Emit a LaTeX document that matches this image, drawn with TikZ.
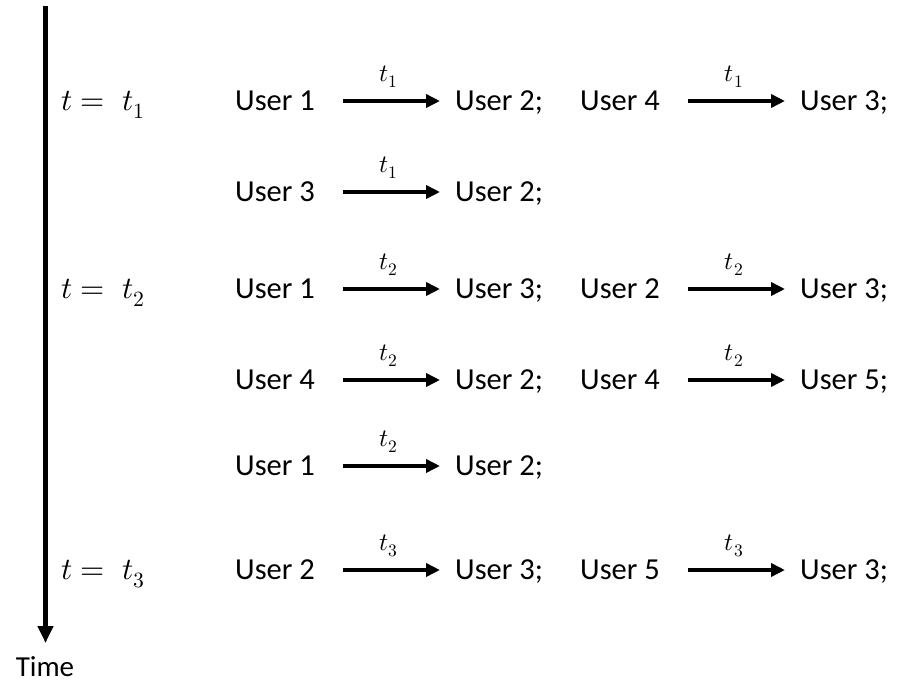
\documentclass[tikz,border=0pt]{standalone}
\usepackage{fontspec}
\usepackage{unicode-math}
\setmainfont{Carlito}
\setmathfont{Latin Modern Math}
\usetikzlibrary{arrows.meta}

\begin{document}
\begin{tikzpicture}[x=1pt,y=-1pt,
  txt/.style={font=\fontsize{30.5}{36}\selectfont, inner sep=2pt, text height=22pt, text depth=3pt, anchor=west},
  lbl/.style={font=\fontsize{25}{30}\selectfont, inner sep=1pt, above=10pt, pos=0.53},
  msg/.style={line width=4.5pt, -{Triangle[length=14pt,width=13pt]}, shorten <=26pt, shorten >=13pt},
  timeline/.style={line width=5pt, -{Triangle[length=17pt,width=15pt]}}]
\useasboundingbox (0,0) rectangle (903,685);
\def\xa{233}%left sender
\def\xb{453}%left receiver
\def\xc{578}%right sender
\def\xd{798}%right receiver

% time axis
\coordinate (axtop) at (45.5,6);
\coordinate (axtip) at (45.5,643);
\draw[timeline] (axtop) -- (axtip);
\node[txt, font=\fontsize{29}{34}\selectfont, inner sep=0pt, text depth=0pt, anchor=base] (time) at (45,676) {Time};

\foreach \y/\k in {101/1,289/2,570/3}
  \node[txt, font=\fontsize{31}{37}\selectfont] (tt\k) at (59,\y) {$t =\; t_{\k}$};

% left column
\foreach \y/\s/\tl/\d [count=\i] in {101/1/1/2,192/3/1/2,289/1/2/3,380/4/2/2,466/1/2/2,570/2/3/3}
{
  \node[txt] (la\i) at (\xa,\y) {User \s};
  \node[txt] (lb\i) at (\xb,\y) {User \d;};
  \draw[msg] (la\i.east) -- node[lbl] {$t_{\tl}$} (lb\i.west);
}

% right column
\foreach \y/\s/\tl/\d [count=\i] in {101/4/1/3,289/2/2/3,380/4/2/5,570/5/3/3}
{
  \node[txt] (ra\i) at (\xc,\y) {User \s};
  \node[txt] (rb\i) at (\xd,\y) {User \d;};
  \draw[msg] (ra\i.east) -- node[lbl] {$t_{\tl}$} (rb\i.west);
}
\end{tikzpicture}
\end{document}
